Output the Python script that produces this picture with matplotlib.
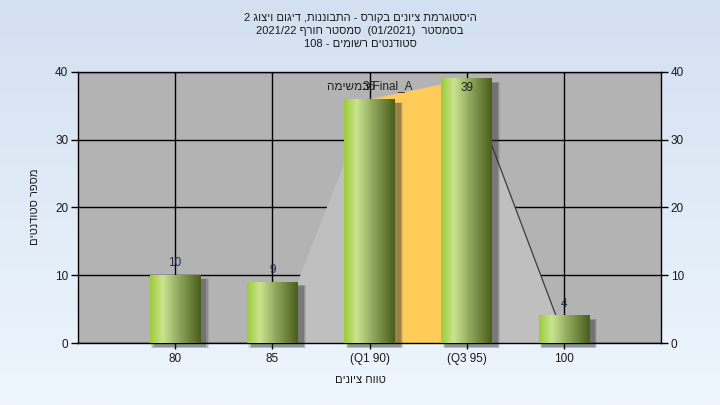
import re
import numpy as np
import matplotlib
matplotlib.use("Agg")
import matplotlib.pyplot as plt
from matplotlib.colors import LinearSegmentedColormap

plt.rcParams['font.family'] = ['Liberation Sans', 'DejaVu Sans']

# data
categories = ["80", "85", "(Q1 90)", "(Q3 95)", "100"]
counts = [10, 9, 36, 39, 4]
# distribution outline drawn behind the bars (from bin 85 to bin 100)
curve_vals = [9, 36, 39, 4]
title_lines = [
    "היסטוגרמת ציונים בקורס - התבוננות, דיגום ויצוג 2",
    "בסמסטר  (01/2021)  סמסטר חורף 2021/22",
    "סטודנטים רשומים - 108",
]
ylabel = "מספר סטודנטים"
xlabel = "טווח ציונים"
task_label = "במשימה"
task_name = "Final_A"


def rtl(s):
    # visual order for right-to-left text: reverse, keep latin/digit runs, mirror brackets
    r = s[::-1]
    r = re.sub(r"[A-Za-z0-9_/.]+", lambda m: m.group(0)[::-1], r)
    return r.translate(str.maketrans("()", ")("))


W, H = 720, 405
fig = plt.figure(figsize=(W / 100, H / 100), dpi=100)

# background gradient
bg = fig.add_axes([0, 0, 1, 1], zorder=-10)
grad = np.linspace(0, 1, 256).reshape(-1, 1)
bg_cmap = LinearSegmentedColormap.from_list("bg", ["#d3e0f1", "#eef6fd"])
bg.imshow(grad, aspect="auto", cmap=bg_cmap, extent=[0, 1, 0, 1])
bg.axis("off")

ax = fig.add_axes([78 / W, (H - 343) / H, (661 - 78) / W, (343 - 72) / H])
ax.set_facecolor("#b3b3b3")
ax.set_xlim(-1, 5)
ax.set_ylim(0, 40)
ax.set_axisbelow(True)
ax.grid(True, color="black", linewidth=1.0)

x = np.arange(len(categories))
bw = 0.52

# light gray distribution area
cx = [x[1] + bw / 2, x[2], x[3], x[4] - 0.08]
px = [cx[0]] + cx + [cx[-1]]
py = [0] + curve_vals + [0]
ax.fill(px, py, color="#bfbfbf", zorder=1.5, linewidth=0)
ax.plot(cx[2:], curve_vals[2:], color="#3c3c3c", linewidth=0.9, zorder=1.6)

# quartile band between Q1 and Q3
ax.fill_between([x[2], x[3]], [curve_vals[1], curve_vals[2]], 0,
                color="#ffcc5a", linewidth=0, zorder=1.7)

# bars with cylinder gradient and soft shadow
bar_cmap = LinearSegmentedColormap.from_list(
    "bar", [(0, "#9ccb3a"), (0.25, "#c9e48f"), (0.55, "#93ab60"), (1.0, "#495e1b")])
ramp = np.linspace(0, 1, 128).reshape(1, -1)
for xi, v in zip(x, counts):
    for k, a in enumerate([0.12, 0.18, 0.28]):
        d = 0.012 * (3 - k)
        ax.add_patch(plt.Rectangle((xi - bw / 2 + 0.05 - d, -0.5 - d * 8),
                                   bw + 2 * d, v + 2 * d * 8 - 0.2,
                                   color="#303030", alpha=a, linewidth=0,
                                   zorder=2, clip_on=False))
    ax.imshow(ramp, cmap=bar_cmap, aspect="auto",
              extent=[xi - bw / 2, xi + bw / 2, 0, v], zorder=3)
    ly = v + 1.8 if v + 1.8 < 39.5 else v - 1.3
    ax.text(xi, ly, str(v), ha="center", va="center", fontsize=8.5,
            color="#1a2f4f" if v < 30 else "#202020", zorder=5)

ax.text(x[2], 37.9, rtl(task_label) + " " + task_name, ha="center", va="center",
        fontsize=8.5, color="#202020", zorder=5)

ax.set_xlim(-1, 5)
ax.set_ylim(0, 40)
ax.set_xticks(x)
ax.set_xticklabels(categories)
ax.set_yticks([0, 10, 20, 30, 40])
ax.tick_params(axis="y", which="both", left=True, right=True, labelleft=True,
               labelright=True, length=5, width=1, color="black",
               labelsize=8.5, labelcolor="#1a1a1a", pad=2)
ax.tick_params(axis="x", length=4, width=1, color="black", labelsize=8.5,
               labelcolor="#1a1a1a", pad=3)
for s in ax.spines.values():
    s.set_color("black")
    s.set_linewidth(1)

fig.text(360 / W, 1 - 380 / H, rtl(xlabel), ha="center", va="center",
         fontsize=8, color="#1a1a1a")
fig.text(35 / W, 1 - 207 / H, rtl(ylabel), ha="center", va="center",
         rotation=90, fontsize=8, color="#1a1a1a")

for i, line in enumerate(title_lines):
    fig.text(360 / W, 1 - (18 + 13 * i) / H, rtl(line), ha="center",
             va="center", fontsize=8, color="#1a1a1a")

fig.savefig("out.png", dpi=100)
